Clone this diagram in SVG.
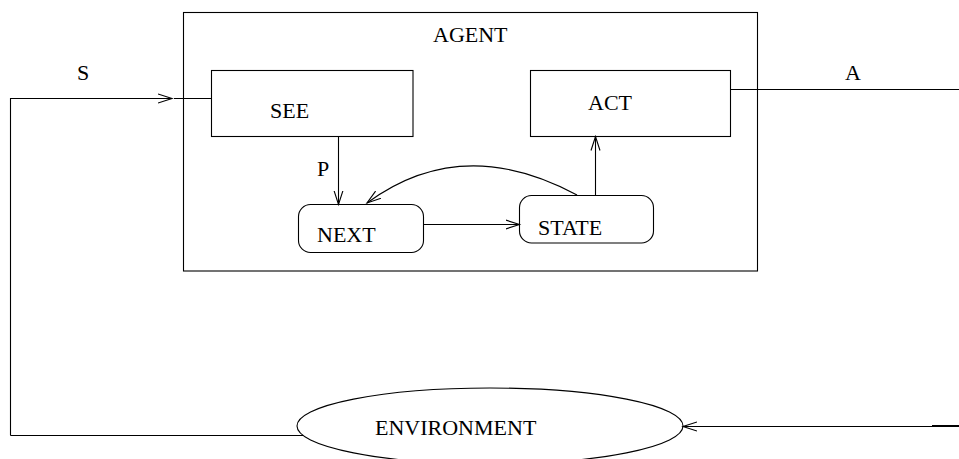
<svg xmlns="http://www.w3.org/2000/svg" width="959" height="459" viewBox="0 0 959 459">
<style>
.b{fill:none;stroke:#000;stroke-width:1.1}
.c{fill:none;stroke:#000;stroke-width:1.1}
text{font-family:"Liberation Serif","Times New Roman",serif;font-size:22px;fill:#000}
</style>
<defs>
<marker id="ar" markerUnits="userSpaceOnUse" markerWidth="16" markerHeight="12" refX="14" refY="5" orient="auto" viewBox="0 0 16 10">
<path d="M0,0.5 L14,5 L0,9.5" fill="none" stroke="#000" stroke-width="1.1"/>
</marker>
</defs>
<rect width="959" height="459" fill="#fff"/>
<g id="agent">
<rect class="b" x="183.5" y="12.5" width="574" height="258.5"/>
<text x="433" y="42">AGENT</text>
</g>
<g id="see">
<rect class="b" x="211.5" y="70.5" width="201.5" height="66"/>
<text x="270" y="118">SEE</text>
</g>
<g id="act">
<rect class="b" x="530.5" y="70.5" width="200" height="66"/>
<text x="588" y="110">ACT</text>
</g>
<g id="next">
<rect class="b" x="298.5" y="204.5" width="125" height="48" rx="12"/>
<text x="317" y="242">NEXT</text>
</g>
<g id="state">
<rect class="b" x="519.5" y="195.5" width="134" height="47.5" rx="12"/>
<text x="538" y="235">STATE</text>
</g>
<g id="environment">
<ellipse class="b" cx="490" cy="426" rx="193" ry="38"/>
<text x="375" y="435">ENVIRONMENT</text>
</g>
<g id="labels">
<text x="77" y="80">S</text>
<text x="845" y="80">A</text>
<text x="317" y="176">P</text>
</g>
<g id="connectors">
<path class="c" d="M10.5,435.5 V98.5 H172" marker-end="url(#ar)"/>
<path class="c" d="M174,98.5 H211.5"/>
<path class="c" d="M730.5,89.5 H959"/>
<path class="c" d="M959,426.5 H683" marker-end="url(#ar)"/>
<path d="M932,426 H959" stroke="#000" stroke-width="2"/>
<path class="c" d="M10.5,435.5 H303"/>
<path class="c" d="M338.5,136.5 V204.5" marker-end="url(#ar)"/>
<path class="c" d="M423.5,224.5 H519.5" marker-end="url(#ar)"/>
<path class="c" d="M595.5,195.5 V136.5" marker-end="url(#ar)"/>
<path class="c" d="M577,195 Q462,133 367,203" marker-end="url(#ar)"/>
</g>
</svg>
